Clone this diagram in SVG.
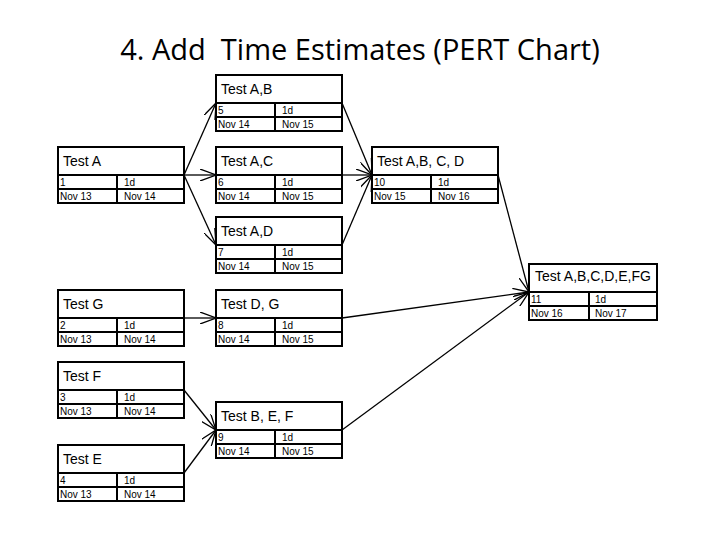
<svg xmlns="http://www.w3.org/2000/svg" width="720" height="540" viewBox="0 0 720 540">
<style>
.b{fill:#fff;stroke:#000;stroke-width:2}
.l{stroke:#000;stroke-width:2}
.t{font-family:"Liberation Sans",Arial,sans-serif;font-size:14px;fill:#000}
.s{font-family:"Liberation Sans",Arial,sans-serif;font-size:10px;fill:#000}
.c{fill:none;stroke:#000;stroke-width:1.3}
</style>
<defs>
<marker id="a" viewBox="0 0 16 12" refX="16" refY="6" markerWidth="16" markerHeight="12" markerUnits="userSpaceOnUse" orient="auto"><path d="M0,0 L16,6 L0,12" fill="none" stroke="#000" stroke-width="1.3"/></marker>
<g id="n"><rect class="b" x="0" y="0" width="126" height="56"/><line class="l" x1="0" y1="28" x2="126" y2="28"/><line class="l" x1="0" y1="42" x2="126" y2="42"/><line class="l" x1="59" y1="28" x2="59" y2="56"/></g>
</defs>
<text x="360" y="60" text-anchor="middle" font-family="Open Sans,Liberation Sans,sans-serif" font-size="29" xml:space="preserve">4. Add  Time Estimates (PERT Chart)</text>
<g id="connectors">
<line class="c" x1="184" y1="175" x2="216" y2="103" marker-end="url(#a)"/>
<line class="c" x1="184" y1="175" x2="216" y2="175" marker-end="url(#a)"/>
<line class="c" x1="184" y1="175" x2="216" y2="245" marker-end="url(#a)"/>
<line class="c" x1="342" y1="103" x2="372" y2="175" marker-end="url(#a)"/>
<line class="c" x1="342" y1="175" x2="372" y2="175" marker-end="url(#a)"/>
<line class="c" x1="342" y1="245" x2="372" y2="175" marker-end="url(#a)"/>
<line class="c" x1="498" y1="175" x2="529" y2="292" marker-end="url(#a)"/>
<line class="c" x1="342" y1="318" x2="529" y2="292" marker-end="url(#a)"/>
<line class="c" x1="342" y1="430" x2="529" y2="292" marker-end="url(#a)"/>
<line class="c" x1="184" y1="318" x2="216" y2="318" marker-end="url(#a)"/>
<line class="c" x1="184" y1="390" x2="216" y2="430" marker-end="url(#a)"/>
<line class="c" x1="184" y1="473" x2="216" y2="430" marker-end="url(#a)"/>
</g>
<g id="nAB" transform="translate(216,75)"><use href="#n"/><text class="t" x="5" y="19">Test A,B</text><text class="s" x="2" y="39">5</text><text class="s" x="66" y="39">1d</text><text class="s" x="2" y="53">Nov 14</text><text class="s" x="66" y="53">Nov 15</text></g>
<g id="nA" transform="translate(58,147)"><use href="#n"/><text class="t" x="5" y="19">Test A</text><text class="s" x="2" y="39">1</text><text class="s" x="66" y="39">1d</text><text class="s" x="2" y="53">Nov 13</text><text class="s" x="66" y="53">Nov 14</text></g>
<g id="nAC" transform="translate(216,147)"><use href="#n"/><text class="t" x="5" y="19">Test A,C</text><text class="s" x="2" y="39">6</text><text class="s" x="66" y="39">1d</text><text class="s" x="2" y="53">Nov 14</text><text class="s" x="66" y="53">Nov 15</text></g>
<g id="nABCD" transform="translate(372,147)"><use href="#n"/><text class="t" x="5" y="19">Test A,B, C, D</text><text class="s" x="2" y="39">10</text><text class="s" x="66" y="39">1d</text><text class="s" x="2" y="53">Nov 15</text><text class="s" x="66" y="53">Nov 16</text></g>
<g id="nAD" transform="translate(216,217)"><use href="#n"/><text class="t" x="5" y="19">Test A,D</text><text class="s" x="2" y="39">7</text><text class="s" x="66" y="39">1d</text><text class="s" x="2" y="53">Nov 14</text><text class="s" x="66" y="53">Nov 15</text></g>
<g id="nALL" transform="translate(529,264)"><rect class="b" x="0" y="0" width="128" height="56"/><line class="l" x1="0" y1="28" x2="128" y2="28"/><line class="l" x1="0" y1="42" x2="128" y2="42"/><line class="l" x1="60" y1="28" x2="60" y2="56"/><text class="t" x="6" y="17">Test A,B,C,D,E,FG</text><text class="s" x="2" y="39">11</text><text class="s" x="66" y="39">1d</text><text class="s" x="2" y="53">Nov 16</text><text class="s" x="66" y="53">Nov 17</text></g>
<g id="nG" transform="translate(58,290)"><use href="#n"/><text class="t" x="5" y="19">Test G</text><text class="s" x="2" y="39">2</text><text class="s" x="66" y="39">1d</text><text class="s" x="2" y="53">Nov 13</text><text class="s" x="66" y="53">Nov 14</text></g>
<g id="nDG" transform="translate(216,290)"><use href="#n"/><text class="t" x="5" y="19">Test D, G</text><text class="s" x="2" y="39">8</text><text class="s" x="66" y="39">1d</text><text class="s" x="2" y="53">Nov 14</text><text class="s" x="66" y="53">Nov 15</text></g>
<g id="nF" transform="translate(58,362)"><use href="#n"/><text class="t" x="5" y="19">Test F</text><text class="s" x="2" y="39">3</text><text class="s" x="66" y="39">1d</text><text class="s" x="2" y="53">Nov 13</text><text class="s" x="66" y="53">Nov 14</text></g>
<g id="nBEF" transform="translate(216,402)"><use href="#n"/><text class="t" x="5" y="19">Test B, E, F</text><text class="s" x="2" y="39">9</text><text class="s" x="66" y="39">1d</text><text class="s" x="2" y="53">Nov 14</text><text class="s" x="66" y="53">Nov 15</text></g>
<g id="nE" transform="translate(58,445)"><use href="#n"/><text class="t" x="5" y="19">Test E</text><text class="s" x="2" y="39">4</text><text class="s" x="66" y="39">1d</text><text class="s" x="2" y="53">Nov 13</text><text class="s" x="66" y="53">Nov 14</text></g>
</svg>
